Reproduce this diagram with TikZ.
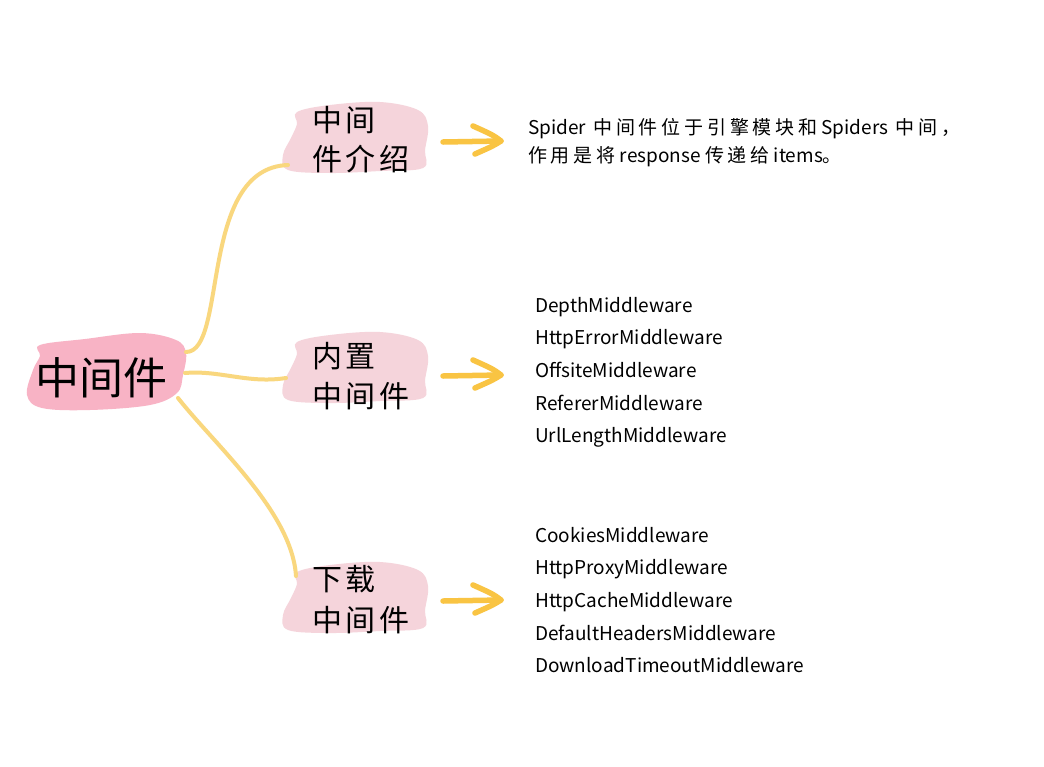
\documentclass[tikz,border=0pt]{standalone}
\usepackage{fontspec}
\setmainfont{Noto Sans CJK SC}
\usetikzlibrary{calc}
\definecolor{rootpink}{HTML}{F8B3C5}
\definecolor{childpink}{HTML}{F5D4DB}
\definecolor{linkyellow}{HTML}{F9D77E}
\definecolor{arrowyellow}{HTML}{F9C443}
\newcommand{\cjksp}[1]{{\addfontfeature{LetterSpace=20}#1}}
\tikzset{
  link/.style={draw=linkyellow, line width=4pt, line cap=round},
  arr/.style={draw=arrowyellow, line width=5.5pt, line cap=round, line join=round},
  rootlabel/.style={inner sep=0pt, font=\fontsize{44}{50}\selectfont},
  childline/.style={inner sep=0pt, anchor=base west, font=\fontsize{30}{36}\selectfont\addfontfeature{LetterSpace=12}},
  desc/.style={inner sep=0pt, anchor=base west, font=\fontsize{19}{22}\selectfont},
  item/.style={inner sep=0pt, anchor=base west, font=\fontsize{19}{22}\selectfont},
}
\newcommand{\childblob}[1]{%
  \fill[childpink] plot[smooth cycle, tension=0.6] coordinates {
    (297,{112+#1}) (330,{105+#1}) (380,{102+#1}) (418,{110+#1}) (428,{126+#1})
    (425,{150+#1}) (423,{168+#1}) (380,{171+#1}) (330,{173+#1}) (288,{170+#1})
    (283,{155+#1}) (291,{138+#1}) (297,{124+#1})};}
\begin{document}
\begin{tikzpicture}[x=1pt,y=-1pt]
\useasboundingbox (0,0) rectangle (1044,766);
\fill[white] (0,0) rectangle (1044,766);
% blobs
\fill[rootpink] plot[smooth cycle, tension=0.6] coordinates {
  (40,345) (85,339) (140,333) (176,340) (186,353) (183,375) (177,393)
  (150,405) (90,410) (42,408) (27,395) (33,370) (40,356)};
\childblob{0}
\childblob{230}
\childblob{460}
% anchor coordinates
\coordinate (rootA) at (186,352);
\coordinate (rootB) at (185,373);
\coordinate (rootC) at (178,398);
\coordinate (c1in) at (288,165);
\coordinate (c2in) at (286,378);
\coordinate (c3in) at (296,576);
% connectors
\draw[link] (rootA) .. controls (228,352) and (198,168) .. (c1in);
\draw[link] (rootB) .. controls (220,370) and (248,384) .. (c2in);
\draw[link] (rootC) .. controls (215,445) and (292,512) .. (c3in);
% labels
\node[rootlabel] (root) at (101,378) {中间件};
\node[childline] (c1a) at (312,131) {中间};
\node[childline] (c1b) at (312,170) {件介绍};
\node[childline] (c2a) at (312,367) {内置};
\node[childline] (c2b) at (312,407) {中间件};
\node[childline] (c3a) at (312,590) {下载};
\node[childline] (c3b) at (312,631) {中间件};
% arrows
\foreach \n/\yy in {1/141, 2/375, 3/600}{
  \coordinate (a\n s) at (443,\yy+1);
  \coordinate (a\n e) at (501,\yy);
  \draw[arr] (a\n s) -- (a\n e);
  \draw[arr] ($(a\n e)+(-28,-15)$) .. controls ($(a\n e)+(-8,-6)$) .. (a\n e)
             .. controls ($(a\n e)+(-8,5)$) .. ($(a\n e)+(-26,13)$);
}
% descriptions
\node[desc] (d1) at (528,134) {Spider\hspace{7pt}\cjksp{中间件位于引擎模块和} Spiders\hspace{7pt}\cjksp{中间，}};
\node[desc] (d2) at (528,162) {\cjksp{作用是将} response \cjksp{传递给} items。};
\node[item] (i1) at (535,312) {DepthMiddleware};
\node[item] (i2) at (535,344) {HttpErrorMiddleware};
\node[item] (i3) at (535,377) {OffsiteMiddleware};
\node[item] (i4) at (535,410) {RefererMiddleware};
\node[item] (i5) at (535,442) {UrlLengthMiddleware};
\node[item] (j1) at (535,542) {CookiesMiddleware};
\node[item] (j2) at (535,574) {HttpProxyMiddleware};
\node[item] (j3) at (535,607) {HttpCacheMiddleware};
\node[item] (j4) at (535,640) {DefaultHeadersMiddleware};
\node[item] (j5) at (535,672) {DownloadTimeoutMiddleware};
\end{tikzpicture}
\end{document}
